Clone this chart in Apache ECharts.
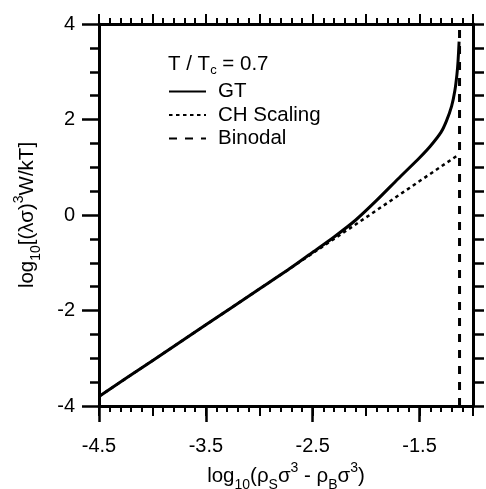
<!DOCTYPE html>
<html>
<head>
<meta charset="utf-8">
<script src="https://cdn.jsdelivr.net/npm/echarts@6/dist/echarts.min.js"></script>
<style>
  html, body { margin: 0; padding: 0; background: #fff; }
  #chart { width: 486px; height: 489px; }
</style>
</head>
<body>
<div id="chart"></div>
<script>
// values
const gtX = [-4.5, -4.0, -3.5, -3.0, -2.7, -2.5, -2.3, -2.1, -1.9, -1.7, -1.5, -1.4, -1.3, -1.25, -1.2, -1.17, -1.15, -1.14, -1.13];
const gtY = [-3.80, -3.05, -2.30, -1.55, -1.10, -0.78, -0.46, -0.11, 0.31, 0.76, 1.20, 1.44, 1.73, 1.96, 2.28, 2.60, 2.95, 3.22, 3.63];
const chX = [-4.5, -3.18, -2.06, -1.139];
const chY = [-3.80, -1.82, -0.14, 1.257];
const binodalX = [-1.126, -1.126];
const binodalY = [-4, 4];

const xTickLabels = ['-4.5', '-3.5', '-2.5', '-1.5'];
const yTickLabels = ['-4', '-2', '0', '2', '4'];

const pairs = (xs, ys) => xs.map((x, i) => [x, ys[i]]);

const font = 'Liberation Sans, Arial, sans-serif';
const black = '#000';

// sub/superscript styles for the axis titles
const rich = {
    m: { fontSize: 20.5, fontFamily: font, color: black, lineHeight: 31 },
    s: { fontSize: 14, fontFamily: font, color: black, lineHeight: 15, verticalAlign: 'bottom' },
    p: { fontSize: 14, fontFamily: font, color: black, lineHeight: 15, verticalAlign: 'top' }
};

const chart = echarts.init(document.getElementById('chart'), null, {renderer: 'canvas'});

const tickAxisBase = {
    type: 'value',
    min: -4.5,
    max: -1.0,
    splitLine: {show: false},
    axisLine: {show: true, lineStyle: {color: black, width: 3}},
    axisLabel: {show: false}
};

chart.setOption({
    animation: false,
    backgroundColor: '#fff',
    title: {
        left: 163,
        top: 46,
        text: '{m|T / T}{s|c}{m| = 0.7}',
        textStyle: {
            rich: {
                m: { fontSize: 20.5, fontFamily: font, fontWeight: 'normal', color: black, lineHeight: 26 },
                s: { fontSize: 13, fontFamily: font, fontWeight: 'normal', color: black, lineHeight: 13, verticalAlign: 'bottom' }
            }
        }
    },
    legend: {
        orient: 'vertical',
        left: 163,
        top: 76,
        itemWidth: 37,
        itemHeight: 14,
        itemGap: 2.5,
        itemStyle: {opacity: 0},
        data: ['GT', 'CH Scaling', 'Binodal'],
        textStyle: {fontSize: 20.5, fontFamily: font, color: black, padding: [0, 0, 0, 7]}
    },
    grid: {left: 99, right: 13, top: 24, bottom: 83, containLabel: false, outerBoundsMode: 'none'},
    xAxis: [
        {
            type: 'value',
            position: 'bottom',
            min: -4.5,
            max: -1.0,
            interval: 1,
            splitLine: {show: false},
            axisLine: {show: true, onZero: false, lineStyle: {color: black, width: 3}},
            axisTick: {show: true, length: 16, lineStyle: {color: black, width: 2.5}},
            axisLabel: {
                show: true,
                margin: 30,
                fontSize: 20,
                fontFamily: font,
                color: black,
                showMaxLabel: false,
                formatter: (v) => {
                    const s = v.toFixed(1);
                    return xTickLabels.indexOf(s) >= 0 ? s : '';
                }
            },
            name: '{m|log}{s|10}{m|(ρ}{s|S}{m|σ}{p|3}{m| - ρ}{s|B}{m|σ}{p|3}{m|)}',
            nameLocation: 'middle',
            nameGap: 44,
            nameTextStyle: {rich: rich}
        },
        Object.assign({}, tickAxisBase, {
            position: 'bottom',
            interval: 0.5,
            axisLine: {show: false, onZero: false},
            axisTick: {show: true, length: 10, lineStyle: {color: black, width: 2}},
            minorTick: {show: true, splitNumber: 5, length: 6, lineStyle: {color: black, width: 2}}
        }),
        Object.assign({}, tickAxisBase, {
            position: 'top',
            interval: 0.5,
            axisLine: {show: true, onZero: false, lineStyle: {color: black, width: 3}},
            axisTick: {show: true, length: 10, lineStyle: {color: black, width: 2}},
            minorTick: {show: true, splitNumber: 5, length: 6, lineStyle: {color: black, width: 2}}
        })
    ],
    yAxis: [
        {
            type: 'value',
            position: 'left',
            min: -4,
            max: 4,
            interval: 2,
            splitLine: {show: false},
            axisLine: {show: true, onZero: false, lineStyle: {color: black, width: 3}},
            axisTick: {show: true, length: 17, lineStyle: {color: black, width: 2.5}},
            minorTick: {show: true, splitNumber: 4, length: 9, lineStyle: {color: black, width: 2.5}},
            axisLabel: {
                margin: 24,
                fontSize: 20,
                fontFamily: font,
                color: black,
                formatter: (v) => {
                    const s = String(Math.round(v));
                    return yTickLabels.indexOf(s) >= 0 ? s : '';
                }
            },
            name: '{m|log}{s|10}{m|[(λσ)}{p|3}{m|W/kT]}',
            nameLocation: 'middle',
            nameRotate: 90,
            nameGap: 56,
            nameTextStyle: {rich: rich}
        },
        {
            type: 'value',
            position: 'right',
            min: -4,
            max: 4,
            interval: 0.5,
            splitLine: {show: false},
            axisLine: {show: true, onZero: false, lineStyle: {color: black, width: 3}},
            axisTick: {show: true, length: 11, lineStyle: {color: black, width: 2.5}},
            axisLabel: {show: false}
        }
    ],
    series: [
        {
            name: 'GT',
            type: 'line',
            xAxisIndex: 0,
            yAxisIndex: 0,
            data: pairs(gtX, gtY),
            smooth: 0.25,
            symbol: 'none',
            itemStyle: {color: black},
            lineStyle: {color: black, width: 3, type: 'solid'}
        },
        {
            name: 'CH Scaling',
            type: 'line',
            xAxisIndex: 0,
            yAxisIndex: 0,
            data: pairs(chX, chY),
            symbol: 'none',
            itemStyle: {color: black},
            lineStyle: {color: black, width: 2.5, type: [3.5, 3.5]}
        },
        {
            name: 'Binodal',
            type: 'line',
            xAxisIndex: 0,
            yAxisIndex: 0,
            data: pairs(binodalX, binodalY),
            symbol: 'none',
            itemStyle: {color: black},
            lineStyle: {color: black, width: 3, type: [8, 8]}
        }
    ]
});

window.addEventListener('resize', () => chart.resize());
</script>
</body>
</html>
